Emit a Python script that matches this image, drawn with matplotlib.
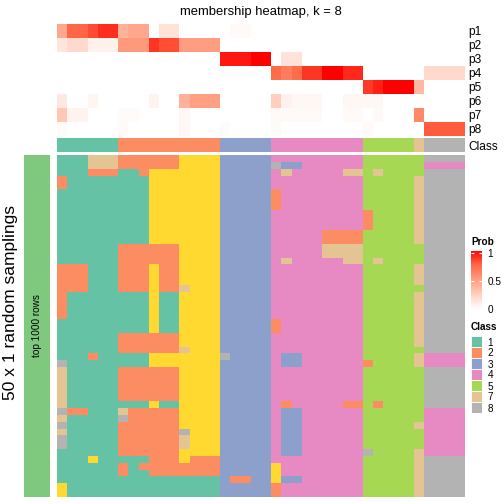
import matplotlib
matplotlib.use("Agg")
import matplotlib.pyplot as plt
import numpy as np
from matplotlib.colors import ListedColormap, BoundaryNorm, LinearSegmentedColormap
from matplotlib.patches import Rectangle

plt.rcParams["font.family"] = ["Liberation Sans", "DejaVu Sans"]

W = H = 504

# Set2 colours for classes 1..8
class_colors = ["#66C2A5", "#FC8D62", "#8DA0CB", "#E78AC3",
                "#A6D854", "#FFD92F", "#E5C494", "#B3B3B3"]
legend_classes = [1, 2, 3, 4, 5, 7, 8]

# consensus class of each of the 40 samples
sample_class = [1, 1, 1, 1, 1, 1,
                2, 2, 2, 2, 2, 2, 2, 2, 2, 2,
                3, 3, 3, 3, 3,
                4, 4, 4, 4, 4, 4, 4, 4, 4,
                5, 5, 5, 5, 5,
                7,
                8, 8, 8, 8]

# membership probabilities p1..p8 for each sample
p1 = [0.45, 0.75, 0.75, 0.82, 0.89, 0.89,
      0.40, 0.45, 0.45, 0.00, 0.15, 0.15, 0.00, 0.00, 0.00, 0.00,
      0.00, 0.03, 0.03, 0.00, 0.00,
      0.00, 0.00, 0.00, 0.00, 0.00, 0.00, 0.00, 0.00, 0.00,
      0.00, 0.00, 0.00, 0.00, 0.00,
      0.00,
      0.00, 0.00, 0.00, 0.00]
p2 = [0.13, 0.20, 0.20, 0.07, 0.07, 0.07,
      0.52, 0.52, 0.52, 0.87, 0.81, 0.81, 0.50, 0.50, 0.50, 0.50,
      0.00, 0.00, 0.00, 0.00, 0.00,
      0.00, 0.00, 0.00, 0.00, 0.00, 0.00, 0.00, 0.00, 0.00,
      0.00, 0.00, 0.00, 0.00, 0.00,
      0.00,
      0.00, 0.00, 0.00, 0.00]
p3 = [0.00, 0.00, 0.00, 0.00, 0.00, 0.00,
      0.00, 0.00, 0.00, 0.00, 0.00, 0.00, 0.00, 0.00, 0.00, 0.00,
      0.94, 0.94, 0.94, 1.00, 1.00,
      0.00, 0.15, 0.15, 0.00, 0.00, 0.00, 0.00, 0.00, 0.00,
      0.00, 0.00, 0.00, 0.00, 0.00,
      0.00,
      0.00, 0.00, 0.00, 0.00]
p4 = [0.00, 0.00, 0.00, 0.00, 0.00, 0.00,
      0.00, 0.00, 0.00, 0.00, 0.00, 0.00, 0.00, 0.00, 0.00, 0.00,
      0.00, 0.00, 0.00, 0.00, 0.00,
      0.73, 0.65, 0.73, 0.87, 0.87, 1.00, 1.00, 0.90, 0.90,
      0.00, 0.00, 0.00, 0.00, 0.00,
      0.00,
      0.20, 0.20, 0.20, 0.20]
p5 = [0.00, 0.00, 0.00, 0.00, 0.00, 0.00,
      0.00, 0.00, 0.00, 0.00, 0.00, 0.00, 0.00, 0.00, 0.00, 0.00,
      0.00, 0.00, 0.00, 0.00, 0.00,
      0.00, 0.00, 0.00, 0.00, 0.00, 0.00, 0.00, 0.00, 0.00,
      0.86, 0.92, 1.00, 1.00, 1.00,
      0.37,
      0.00, 0.00, 0.00, 0.00]
p6 = [0.12, 0.00, 0.00, 0.05, 0.00, 0.00,
      0.00, 0.00, 0.00, 0.06, 0.00, 0.00, 0.41, 0.49, 0.49, 0.49,
      0.00, 0.00, 0.00, 0.00, 0.00,
      0.25, 0.07, 0.04, 0.04, 0.04, 0.00, 0.00, 0.04, 0.04,
      0.04, 0.04, 0.00, 0.00, 0.00,
      0.00,
      0.00, 0.00, 0.00, 0.00]
p7 = [0.29, 0.06, 0.06, 0.00, 0.00, 0.00,
      0.02, 0.02, 0.00, 0.00, 0.00, 0.00, 0.04, 0.00, 0.00, 0.00,
      0.00, 0.00, 0.00, 0.00, 0.00,
      0.03, 0.03, 0.03, 0.03, 0.03, 0.00, 0.00, 0.03, 0.03,
      0.00, 0.03, 0.00, 0.00, 0.00,
      0.60,
      0.00, 0.00, 0.00, 0.00]
p8 = [0.02, 0.00, 0.00, 0.00, 0.00, 0.00,
      0.03, 0.00, 0.00, 0.00, 0.00, 0.00, 0.04, 0.00, 0.00, 0.00,
      0.02, 0.00, 0.00, 0.00, 0.00,
      0.02, 0.00, 0.00, 0.00, 0.00, 0.00, 0.00, 0.00, 0.00,
      0.03, 0.00, 0.00, 0.00, 0.00,
      0.00,
      0.78, 0.78, 0.78, 0.78]
prob_rows = ["p1", "p2", "p3", "p4", "p5", "p6", "p7", "p8"]

# class assigned in each of the 50 samplings (groups follow the consensus classes)
samplings = [
    "111777222 2226666 33333 444444444 55555 5 8888",
    "111777222 2226666 33333 833444444 55555 5 4444",
    "111222112 6666666 33333 474444477 57555 5 8888",
    "211111111 6666666 33333 444444444 55555 7 8888",
    "211111111 6666666 33333 444444444 55555 7 8888",
    "111111111 6666666 33333 244444444 55555 7 8888",
    "111111111 6666666 33333 244444444 55555 7 8888",
    "111111111 6666666 33333 244444444 55555 7 8888",
    "111111111 6666666 33333 444444444 25555 7 8888",
    "111111111 6666666 33333 444444444 25555 7 8888",
    "111111111 6666666 33333 444444444 25555 7 8888",
    "111111111 6666666 33333 444442222 55555 7 8888",
    "111111111 6666666 33333 444442222 55555 7 8888",
    "111111222 2226666 33333 444447777 55555 5 8888",
    "111111222 2226666 33333 444447777 55555 5 8888",
    "111111222 2226666 33333 474444477 57555 5 8888",
    "222111222 6226666 33333 444444444 55555 7 8888",
    "222111222 6226666 33333 444444444 55555 7 8888",
    "222111222 6226666 33333 444444444 55555 7 8888",
    "222111222 6227666 33333 444444444 55555 5 8888",
    "211111111 6116666 33333 444444444 55555 7 8888",
    "211111111 6116666 33333 444444444 55555 7 8888",
    "211111111 6116666 33333 444444444 55555 7 8888",
    "211111111 6116666 33333 444444444 55555 7 8888",
    "111111111 6116666 33333 244444444 55555 7 8888",
    "111111111 6116666 33333 244444444 55555 7 8888",
    "111111222 2226666 33333 444444444 55555 7 8888",
    "111111222 2226666 33333 444444444 55555 7 8888",
    "111111222 2227666 33333 444444444 55555 5 8888",
    "111211111 6666666 83333 433444444 55555 7 4444",
    "811111111 6666666 33333 433444444 25555 7 4444",
    "711111222 2226666 33333 444444444 55555 5 8888",
    "711111222 2226666 33333 444444444 55555 5 8888",
    "711111222 2226666 33333 444444444 55555 5 8888",
    "711111222 2226666 33333 444444444 55555 5 8888",
    "711111222 2226666 33333 444444444 55555 5 8888",
    "711111111 6116666 33333 424444422 52555 5 8888",
    "822111722 2226666 33333 433444444 55555 5 4444",
    "711111822 2226666 33333 433444444 55555 5 4444",
    "811111222 2226666 33333 433444444 55555 7 4444",
    "711111222 2228666 33333 433444444 55555 5 4444",
    "811111222 2227666 33333 433444444 55555 5 4444",
    "811111222 2227666 33333 433444444 55555 5 4444",
    "111111222 2226666 33333 433444444 85555 7 4444",
    "111611111 2226222 33333 444444444 55555 7 8888",
    "111111212 2222222 33333 644444444 55555 7 8888",
    "111111211 2222222 33333 644444444 55555 7 8888",
    "111111111 1111111 32233 633444444 55555 7 8888",
    "611111111 1111111 33333 244444444 55555 7 8888",
    "611111111 1111111 33333 244444444 55555 7 8888",
]


def px_axes(fig, x0, y0, x1, y1):
    """Axes placed by pixel box (top-left origin) on a WxH figure."""
    return fig.add_axes([x0 / W, 1 - y1 / H, (x1 - x0) / W, (y1 - y0) / H])


def main():
    fig = plt.figure(figsize=(W / 100, H / 100), dpi=100)

    class_cmap = ListedColormap(class_colors)
    class_norm = BoundaryNorm(np.arange(0.5, 9.5, 1), class_cmap.N)
    # white -> red, interpolated like colorRamp2 in LAB
    prob_cmap = LinearSegmentedColormap.from_list(
        "prob", [(0, "#FFFFFF"), (0.25, "#FFD0BE"), (0.5, "#FF9E82"),
                 (0.75, "#FF6846"), (1, "#FF0000")])

    # membership heatmap
    P = np.array([p1, p2, p3, p4, p5, p6, p7, p8])
    ax_m = px_axes(fig, 57, 24, 464, 136)
    ax_m.imshow(P, cmap=prob_cmap, vmin=0, vmax=1, aspect="auto", interpolation="nearest")
    ax_m.set_xticks([])
    ax_m.yaxis.tick_right()
    ax_m.set_yticks(range(len(prob_rows)))
    ax_m.set_yticklabels(prob_rows, fontsize=8.6)
    ax_m.tick_params(axis="y", length=0, pad=3)
    for s in ax_m.spines.values():
        s.set_visible(False)

    # class annotation
    ax_c = px_axes(fig, 57, 138, 464, 152)
    ax_c.imshow(np.array([sample_class]), cmap=class_cmap, norm=class_norm,
                aspect="auto", interpolation="nearest")
    ax_c.set_xticks([])
    ax_c.yaxis.tick_right()
    ax_c.set_yticks([0])
    ax_c.set_yticklabels(["Class"], fontsize=8.6)
    ax_c.tick_params(axis="y", length=0, pad=3)
    for s in ax_c.spines.values():
        s.set_visible(False)

    # samplings heatmap
    M = np.array([[int(ch) for ch in row.replace(" ", "")] for row in samplings])
    ax = px_axes(fig, 57, 155, 464, 497)
    ax.imshow(M, cmap=class_cmap, norm=class_norm, aspect="auto", interpolation="nearest")
    ax.axis("off")

    # left block annotation
    ax_l = px_axes(fig, 24, 155, 50, 497)
    ax_l.set_facecolor("#7FC97F")
    ax_l.set_xticks([])
    ax_l.set_yticks([])
    for s in ax_l.spines.values():
        s.set_visible(False)
    ax_l.text(0.5, 0.5, "top 1000 rows", rotation=90, ha="center", va="center",
              fontsize=7.2, transform=ax_l.transAxes)

    fig.text(11 / W, 1 - 303 / H, "50 x 1 random samplings", rotation=90,
             ha="center", va="center", fontsize=12.5)
    fig.text(260.5 / W, 1 - 12 / H, "membership heatmap, k = 8",
             ha="center", va="center", fontsize=9.4)

    # Prob legend
    fig.text(471 / W, 1 - 242 / H, "Prob", fontsize=7.2, fontweight="bold",
             ha="left", va="center")
    ax_p = px_axes(fig, 471, 251, 482, 309)
    grad = np.linspace(0, 1, 200).reshape(-1, 1)
    ax_p.imshow(grad, cmap=prob_cmap, vmin=0, vmax=1, aspect="auto",
                origin="lower", extent=[0, 1, 0, 1.04])
    ax_p.set_xlim(0, 1)
    ax_p.set_ylim(0, 1.04)
    ax_p.set_xticks([])
    ax_p.yaxis.tick_right()
    ax_p.set_yticks([0, 0.5, 1])
    ax_p.set_yticklabels(["0", "0.5", "1"], fontsize=7.2)
    ax_p.tick_params(axis="y", direction="in", color="white", labelcolor="black",
                     length=2, width=0.8, pad=4, left=True)
    for s in ax_p.spines.values():
        s.set_visible(False)

    # Class legend
    fig.text(471 / W, 1 - 327 / H, "Class", fontsize=7.2, fontweight="bold",
             ha="left", va="center")
    ax_k = px_axes(fig, 471, 336, 482, 413)
    for i, k in enumerate(legend_classes):
        ax_k.add_patch(Rectangle((0, i), 1, 1, facecolor=class_colors[k - 1],
                                 edgecolor="white", linewidth=0.6))
    ax_k.set_xlim(0, 1)
    ax_k.set_ylim(len(legend_classes), 0)
    ax_k.set_xticks([])
    ax_k.yaxis.tick_right()
    ax_k.set_yticks(np.arange(len(legend_classes)) + 0.5)
    ax_k.set_yticklabels([str(k) for k in legend_classes], fontsize=7.2)
    ax_k.tick_params(axis="y", length=0, pad=4)
    for s in ax_k.spines.values():
        s.set_visible(False)

    fig.savefig("out.png", dpi=100)


if __name__ == "__main__":
    main()
